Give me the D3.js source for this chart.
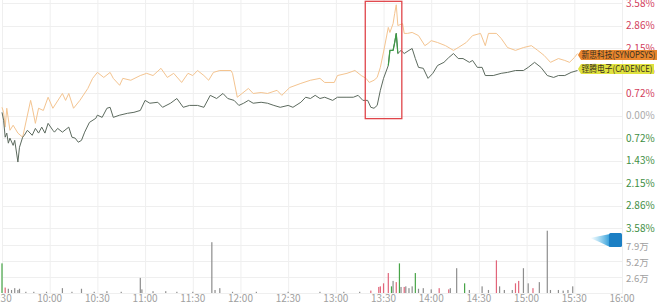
<!DOCTYPE html>
<html>
<head>
<meta charset="utf-8">
<script src="https://cdn.jsdelivr.net/npm/d3@7"></script>
<style>
  body { margin: 0; background: #fff; }
  text { font-family: "Noto Sans CJK SC", "Noto Sans", sans-serif; }
</style>
</head>
<body>
<script>
// minutes since 9:30 and % change
const snpsTime = [0,1,2,3,5,7,10,13,18,19,21,23,26,29,32,38,40,42,45,49,54,57,60,64,68,70,74,76,81,87,91,95,100,104,108,113,117,120,123,127,130,133,137,144,145,148,151,155,158,163,167,173,176,181,188,194,200,203,209,211,217,222,226,229,231,234,236,238,240,243,244,246,247,248,249,252,253,255,258,262,266,268,270,274,279,284,287,292,296,301,304,306,311,314,318,323,328,333,337,341,345,350,354,357,360,362];
const snpsPct = [0.27,0.11,-0.36,0.24,-0.46,-0.30,-0.55,-0.68,0.49,0.27,-0.24,0.24,0.17,0.59,0.24,0.71,0.49,0.71,0.24,0.49,0.87,1.19,1.38,1.22,1.38,1.19,0.97,1.19,1.13,1.28,1.35,1.28,1.51,1.22,1.35,1.06,1.35,1.28,1.44,1.28,1.13,1.38,1.44,1.44,1.35,0.59,0.71,0.87,0.71,0.74,0.71,0.81,0.65,0.90,1.03,1.13,1.19,1.06,1.06,1.28,1.35,1.44,1.28,1.19,1.06,1.13,1.22,1.54,2.03,2.81,2.65,2.93,3.25,3.53,2.87,2.93,2.62,2.62,2.65,2.55,2.23,2.30,2.39,2.33,2.23,2.08,2.17,2.33,2.55,2.62,2.23,2.62,2.62,2.46,2.17,2.08,2.17,2.23,2.08,1.92,1.70,1.82,1.76,1.70,1.85,1.98];

const cdnsTime = [0,1,2,3,4,5,7,8,10,11,13,14,16,19,21,23,25,27,29,32,33,35,38,42,44,46,48,50,52,55,59,60,63,66,68,70,74,79,83,87,90,93,98,101,106,110,114,118,123,127,131,135,139,142,146,149,152,155,158,163,167,171,175,180,183,188,191,194,197,200,203,208,211,217,221,224,227,230,232,234,236,238,240,243,244,246,247,248,249,251,253,256,258,260,262,265,268,271,274,278,281,284,287,290,294,296,299,302,304,309,314,318,323,328,331,335,339,343,347,350,354,358,362];
const cdnsPct = [0.11,-0.14,-0.68,-0.55,-0.87,-0.71,-0.94,-0.78,-1.47,-1.00,-0.68,-0.62,-0.46,-0.62,-0.40,-0.55,-0.36,-0.55,-0.24,-0.46,-0.52,-0.40,-0.52,-0.36,-0.68,-0.71,-0.84,-0.78,-0.52,-0.21,-0.08,0.02,-0.05,0.24,0.27,-0.05,0.02,0.08,0.11,0.17,0.49,0.40,0.43,0.27,0.40,0.55,0.27,0.33,0.33,0.27,0.65,0.55,0.71,0.55,0.49,0.33,0.40,0.49,0.40,0.43,0.40,0.33,0.27,0.33,0.27,0.43,0.59,0.55,0.65,0.55,0.59,0.49,0.59,0.59,0.59,0.65,0.49,0.49,0.27,0.24,0.33,0.81,1.19,1.60,2.08,2.08,2.33,2.62,1.98,2.08,1.98,2.08,2.14,1.82,1.54,1.51,1.19,1.35,1.60,1.70,1.85,1.98,1.82,1.82,1.70,1.76,1.54,1.54,1.28,1.28,1.35,1.38,1.44,1.44,1.54,1.70,1.54,1.28,1.22,1.28,1.28,1.38,1.44];

// volume in 万, u = up, d = down, n = flat
const volTime = [0,2,4,6,8,10,11,15,20,28,38,44,50,58,66,75,87,88,95,103,110,120,132,134,137,145,160,180,200,215,225,232,237,238,240,243,245,246,248,250,251,253,254,256,258,260,262,265,270,275,281,282,286,291,294,302,306,311,313,316,321,323,325,328,331,334,338,343,345,350,353,356,359];
const volValue = [4.9,0.9,0.7,0.5,0.8,0.5,0.7,0.2,0.2,0.2,0.8,0.2,0.7,0.2,0.3,0.2,2.5,0.6,0.3,0.3,0.2,0.2,8.4,0.5,0.8,0.2,0.2,0.2,0.2,0.2,0.2,0.4,1.0,1.1,1.6,3.3,1.1,2.0,1.8,4.9,1.0,1.0,1.1,0.8,1.1,3.3,0.7,0.8,0.6,0.8,0.6,0.8,4.1,1.6,0.5,1.1,0.5,5.4,1.1,0.5,0.5,1.6,2.0,4.1,1.6,0.8,1.8,10.3,0.5,0.5,0.4,0.5,1.1];
const volDir = ["d","u","n","n","n","n","n","n","n","n","n","n","n","n","n","n","n","n","n","n","n","n","n","n","n","n","n","n","n","n","n","u","u","u","u","u","d","n","u","d","n","u","n","n","n","d","n","n","n","u","u","n","n","d","n","n","n","u","n","n","n","u","u","n","n","u","n","n","n","n","n","n","n"];

const timeLabels = ["9:30","10:00","10:30","11:00","11:30","12:00","12:30","13:00","13:30","14:00","14:30","15:00","15:30","16:00"];
const pctTicks = [3.58,2.864,2.148,1.432,0.716,0,-0.716,-1.432,-2.148,-2.864,-3.58];
const volTicks = [2.625,5.25,7.875];
const volLabels = ["2.6万","5.2万","7.9万"];
const seriesNames = ["新思科技(SYNOPSYS)","铿腾电子(CADENCE)"];
const boxRange = [228.5, 251.5];   // highlighted minutes
const boxPct = [3.64, -0.09];

const width = 660, height = 304;

const svg = d3.select("body").append("svg")
  .attr("width", width)
  .attr("height", height);

const x = d3.scaleLinear().domain([0, 390]).range([2, 622]);
const y = d3.scaleLinear().domain([-3.58, 3.58]).range([228.4, 3.2]);
const yv = d3.scaleLinear().domain([0, 10.5]).range([293, 229.5]);

// grid
svg.append("g").selectAll("line.v")
  .data(timeLabels)
  .enter().append("line")
  .attr("x1", (d, i) => x(i * 30) + 0.5)
  .attr("x2", (d, i) => x(i * 30) + 0.5)
  .attr("y1", 0).attr("y2", 293)
  .attr("stroke", "#efefef");

svg.append("g").selectAll("line")
  .data(pctTicks)
  .enter().append("line")
  .attr("x1", 2).attr("x2", 623)
  .attr("y1", d => Math.round(y(d)) + 0.5)
  .attr("y2", d => Math.round(y(d)) + 0.5)
  .attr("stroke", "#efefef");

svg.append("g").selectAll("line")
  .data(volTicks.concat([0]))
  .enter().append("line")
  .attr("x1", 2).attr("x2", 623)
  .attr("y1", d => Math.round(yv(d)) + 0.5)
  .attr("y2", d => Math.round(yv(d)) + 0.5)
  .attr("stroke", "#efefef");

// volume bars
const volColor = { u: "#e2657a", d: "#47a447", n: "#8d8d8d" };
svg.append("g").selectAll("rect")
  .data(volTime)
  .enter().append("rect")
  .attr("x", d => x(d) - 0.6)
  .attr("width", 1.2)
  .attr("y", (d, i) => yv(volValue[i]))
  .attr("height", (d, i) => yv(0) - yv(volValue[i]))
  .attr("fill", (d, i) => volColor[volDir[i]]);

// lines
const line = d3.line()
  .x(d => x(d[0]))
  .y(d => y(d[1]));

const snps = snpsTime.map((t, i) => [t, snpsPct[i]]);
const cdns = cdnsTime.map((t, i) => [t, cdnsPct[i]]);

svg.append("path")
  .attr("d", line(snps))
  .attr("fill", "none")
  .attr("stroke", "#f4c490")
  .attr("stroke-width", 1);

svg.append("path")
  .attr("d", line(cdns))
  .attr("fill", "none")
  .attr("stroke", "#5c6a5e")
  .attr("stroke-width", 1);

svg.append("path")
  .attr("d", line(cdns.filter(d => d[0] >= 243 && d[0] <= 249)))
  .attr("fill", "none")
  .attr("stroke", "#3c9a46")
  .attr("stroke-width", 1.2);

// highlight box
svg.append("rect")
  .attr("x", x(boxRange[0]))
  .attr("y", y(boxPct[0]))
  .attr("width", x(boxRange[1]) - x(boxRange[0]))
  .attr("height", y(boxPct[1]) - y(boxPct[0]))
  .attr("fill", "none")
  .attr("stroke", "#e0454a")
  .attr("stroke-width", 1.3);

// right axis labels
svg.append("g").selectAll("text")
  .data(pctTicks)
  .enter().append("text")
  .attr("x", 626)
  .attr("y", d => y(d))
  .attr("dy", "0.35em")
  .attr("font-size", 10)
  .attr("fill", d => d > 0 ? "#d2405c" : d < 0 ? "#3f8f45" : "#aaaaaa")
  .text(d => Math.abs(d).toFixed(2) + "%");

svg.append("g").selectAll("text")
  .data(volTicks)
  .enter().append("text")
  .attr("x", 626)
  .attr("y", d => yv(d) + 1.5)
  .attr("dy", "0.35em")
  .attr("font-size", 9.5)
  .attr("fill", "#a0a0a0")
  .text((d, i) => volLabels[i]);

// time labels
svg.append("g").selectAll("text")
  .data(timeLabels)
  .enter().append("text")
  .attr("x", (d, i) => x(i * 30))
  .attr("y", 298)
  .attr("dy", "0.35em")
  .attr("text-anchor", "middle")
  .attr("font-size", 10)
  .attr("fill", "#a0a0a0")
  .text(d => d);

// end labels
const ends = [
  { p: snps[snps.length - 1], fill: "#e9862d", w: 79, yOff: 1.5 },
  { p: cdns[cdns.length - 1], fill: "#dfe23e", w: 76, yOff: -1.5 }
];
const tag = svg.append("g").selectAll("g")
  .data(ends)
  .enter().append("g")
  .attr("transform", d => "translate(" + (x(d.p[0]) + 0.5) + "," + (y(d.p[1]) + d.yOff) + ")");

tag.append("path")
  .attr("d", d => "M0,0 L3,-5 L" + d.w + ",-5 L" + d.w + ",5 L3,5 Z")
  .attr("fill", d => d.fill);

tag.append("text")
  .attr("x", 3.5)
  .attr("dy", "0.36em")
  .attr("font-size", 9)
  .attr("textLength", d => d.w - 5)
  .attr("lengthAdjust", "spacingAndGlyphs")
  .attr("fill", "#3a3020")
  .text((d, i) => seriesNames[i]);

// blue drag handle
const defs = svg.append("defs");
const grad = defs.append("linearGradient").attr("id", "tail");
grad.append("stop").attr("offset", "0%").attr("stop-color", "#5bc0ea").attr("stop-opacity", 0);
grad.append("stop").attr("offset", "100%").attr("stop-color", "#2f9bd8").attr("stop-opacity", 1);

svg.append("path")
  .attr("d", "M590,238 Q600,236 610,234 L610,247 Q600,242 590,238 Z")
  .attr("fill", "url(#tail)");
svg.append("rect")
  .attr("x", 609).attr("y", 233)
  .attr("width", 13).attr("height", 14)
  .attr("rx", 1.5)
  .attr("fill", "#1b7fc4");
</script>
</body>
</html>
